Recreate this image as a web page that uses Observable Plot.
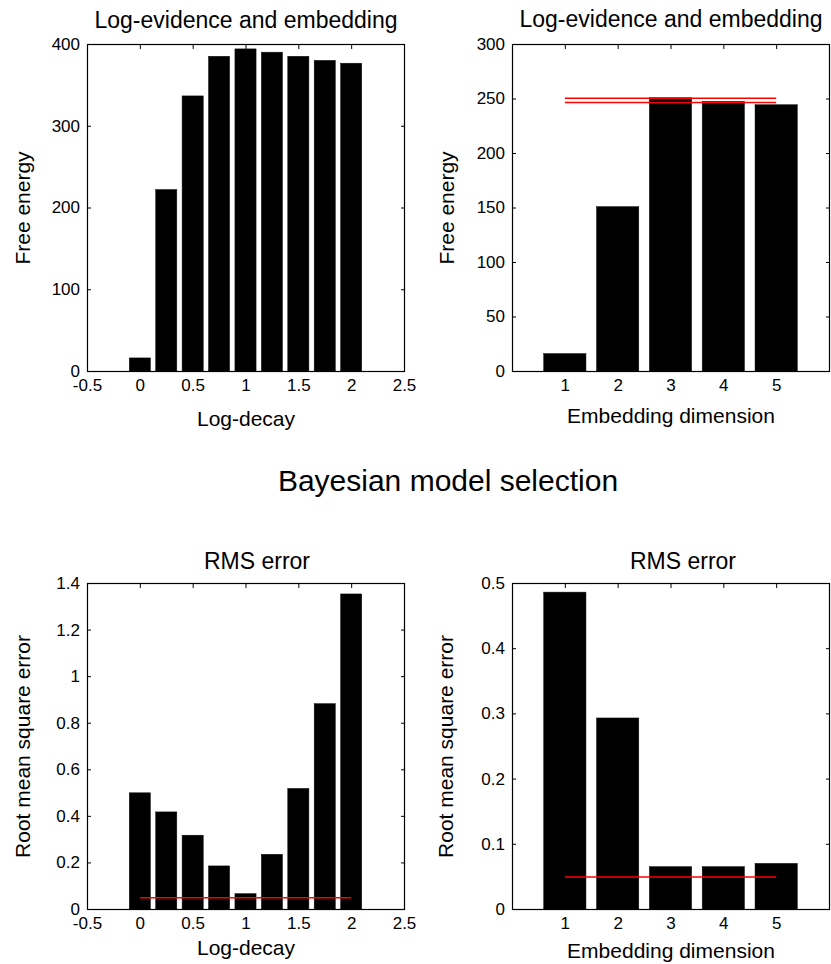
<!DOCTYPE html>
<html><head><meta charset="utf-8">
<script src="https://cdn.jsdelivr.net/npm/d3@7"></script>
<script src="https://cdn.jsdelivr.net/npm/@observablehq/plot@0.6"></script>
<style>
html,body{margin:0;padding:0;background:#fff;}
#root{position:relative;width:831px;height:964px;overflow:hidden;background:#fff;font-family:"Liberation Sans",Arial,Helvetica,sans-serif;}
.panel{position:absolute;}
#suptitle{position:absolute;left:32.5px;top:466px;width:831px;text-align:center;font-size:30px;line-height:30px;color:#000;white-space:nowrap;}
</style></head><body><div id="root"></div>
<script>
// ---- data ----
const logDecay = [0, 0.25, 0.5, 0.75, 1, 1.25, 1.5, 1.75, 2];
const embedDim = [1, 2, 3, 4, 5];
const freeEnergyDecay = [16, 222, 336.5, 385, 394, 390, 385, 380, 376.5];
const freeEnergyEmbed = [16, 150.8, 250.7, 247.3, 244.3];
const rmsDecay = [0.499, 0.417, 0.317, 0.185, 0.066, 0.235, 0.518, 0.882, 1.353];
const rmsEmbed = [0.486, 0.293, 0.065, 0.065, 0.070];
const evidenceLines = [250.6, 246.8];
const rmsTarget = [0.05];
const decayTicks = [-0.5, 0, 0.5, 1, 1.5, 2, 2.5];
const embedTicks = [1, 2, 3, 4, 5];
const feDecayTicks = [0, 100, 200, 300, 400];
const feEmbedTicks = [0, 50, 100, 150, 200, 250, 300];
const rmsDecayTicks = [0, 0.2, 0.4, 0.6, 0.8, 1, 1.2, 1.4];
const rmsEmbedTicks = [0, 0.1, 0.2, 0.3, 0.4, 0.5];
const mainTitle = "Bayesian model selection";
const panelTitles = ["Log-evidence and embedding", "Log-evidence and embedding", "RMS error", "RMS error"];
const xLabels = ["Log-decay", "Embedding dimension", "Log-decay", "Embedding dimension"];
const yLabels = ["Free energy", "Free energy", "Root mean square error", "Root mean square error"];

const FONT = '"Liberation Sans", Arial, Helvetica, sans-serif';
const root = document.getElementById("root");

function makePanel(cfg) {
  const bars = cfg.xs.map((x, i) => ({x, v: cfg.ys[i]}));
  const step = cfg.xs[1] - cfg.xs[0];
  const half = step * 0.4;
  const marks = [
    Plot.rectY(bars, {x1: d => d.x - half, x2: d => d.x + half, y1: 0, y2: "v", fill: "black", stroke: "#111", strokeWidth: 0.5})
  ];
  if (cfg.refLines) {
    marks.push(Plot.ruleY(cfg.refLines, {y: d => d, x1: cfg.xs[0], x2: cfg.xs[cfg.xs.length - 1], stroke: "#ff0000", strokeWidth: 1.5}));
  }
  marks.push(
    Plot.axisX(cfg.xTicks, {anchor: "bottom", tickSize: -4, tickPadding: 11, tickFormat: d => String(d), label: null}),
    Plot.axisX(cfg.xTicks, {anchor: "top", tickSize: -4, fill: "none", label: null}),
    Plot.axisY(cfg.yTicks, {anchor: "left", tickSize: -4, tickPadding: 11.5, tickFormat: d => String(d), label: null}),
    Plot.axisY(cfg.yTicks, {anchor: "right", tickSize: -4, fill: "none", label: null}),
    Plot.frame({stroke: "black", strokeWidth: 1.2}),
    Plot.text([cfg.title], {text: d => d, frameAnchor: "top", dy: cfg.titleDy, dx: cfg.titleDx, lineAnchor: "bottom", textAnchor: "middle", fontSize: 23}),
    Plot.text([cfg.xLabel], {text: d => d, frameAnchor: "bottom", dy: cfg.xLabelDy, lineAnchor: "bottom", textAnchor: "middle", fontSize: 21}),
    Plot.text([cfg.yLabel], {text: d => d, frameAnchor: "left", dx: cfg.yLabelDx, rotate: -90, textAnchor: "middle", lineAnchor: "middle", fontSize: 21})
  );
  const svg = Plot.plot({
    width: cfg.width, height: cfg.height,
    marginTop: cfg.m[0], marginRight: cfg.m[1], marginBottom: cfg.m[2], marginLeft: cfg.m[3],
    x: {domain: cfg.xDomain},
    y: {domain: cfg.yDomain},
    style: {fontFamily: FONT, fontSize: "17px", color: "black", background: "transparent", overflow: "visible"},
    marks
  });
  svg.classList.add("panel");
  svg.style.left = cfg.left + "px";
  svg.style.top = cfg.top + "px";
  root.appendChild(svg);
}

makePanel({xs: logDecay, ys: freeEnergyDecay, xDomain: [-0.5, 2.5], yDomain: [0, 400], xTicks: decayTicks, yTicks: feDecayTicks,
  title: panelTitles[0], titleDy: -17, titleDx: 0, xLabel: xLabels[0], xLabelDy: 54, yLabel: yLabels[0], yLabelDx: -64,
  left: 0, top: 0, width: 415, height: 430, m: [44, 11, 59, 87]});
makePanel({xs: embedDim, ys: freeEnergyEmbed, xDomain: [0, 6], yDomain: [0, 300], xTicks: embedTicks, yTicks: feEmbedTicks, refLines: evidenceLines,
  title: panelTitles[1], titleDy: -17.3, titleDx: 0, xLabel: xLabels[1], xLabelDy: 51, yLabel: yLabels[1], yLabelDx: -65,
  left: 415, top: 0, width: 416, height: 430, m: [44, 2, 59, 97]});
makePanel({xs: logDecay, ys: rmsDecay, xDomain: [-0.5, 2.5], yDomain: [0, 1.4], xTicks: decayTicks, yTicks: rmsDecayTicks, refLines: rmsTarget,
  title: panelTitles[2], titleDy: -15, titleDx: 11, xLabel: xLabels[2], xLabelDy: 45, yLabel: yLabels[2], yLabelDx: -64,
  left: 0, top: 540, width: 415, height: 424, m: [43, 11, 55, 87]});
makePanel({xs: embedDim, ys: rmsEmbed, xDomain: [0, 6], yDomain: [0, 0.5], xTicks: embedTicks, yTicks: rmsEmbedTicks, refLines: rmsTarget,
  title: panelTitles[3], titleDy: -15, titleDx: 12, xLabel: xLabels[3], xLabelDy: 48, yLabel: yLabels[3], yLabelDx: -66,
  left: 415, top: 540, width: 416, height: 424, m: [43, 2, 55, 97]});

const sup = document.createElement("div");
sup.id = "suptitle";
sup.textContent = mainTitle;
root.appendChild(sup);
</script>
</body></html>
